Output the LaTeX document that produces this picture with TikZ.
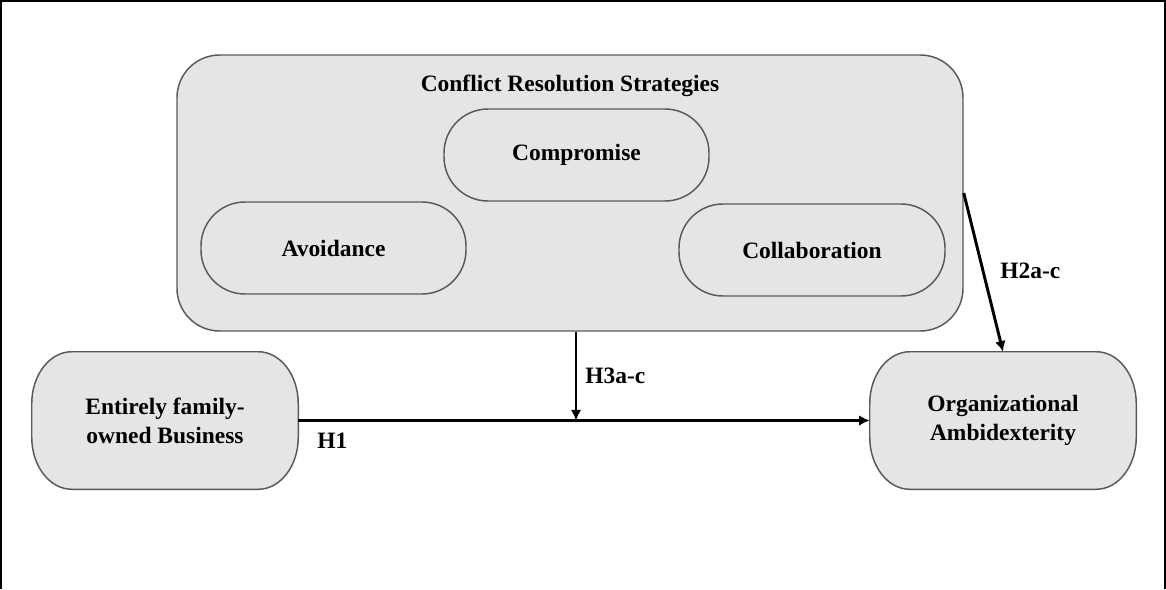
\documentclass[tikz,border=0pt]{standalone}
\usepackage{fontspec}
\setmainfont{Liberation Serif}
\usetikzlibrary{positioning,arrows.meta,backgrounds}

% oval outline round a node, corners with x radius #2 and y radius #3
\newcommand\ovalround[3]{%
  \begin{scope}[on background layer]
  \draw[ovalline] ([xshift=#2]#1.north west) -- ([xshift=-#2]#1.north east)
    arc[start angle=90,end angle=0,x radius=#2,y radius=#3] -- ([yshift=#3]#1.south east)
    arc[start angle=0,end angle=-90,x radius=#2,y radius=#3] -- ([xshift=#2]#1.south west)
    arc[start angle=270,end angle=180,x radius=#2,y radius=#3] -- ([yshift=-#3]#1.north west)
    arc[start angle=180,end angle=90,x radius=#2,y radius=#3] -- cycle;
  \end{scope}}

\begin{document}
\begin{tikzpicture}[x=0.75pt,y=-0.75pt]
		\tikzstyle{every node}+=[inner sep=0pt,font=\bfseries\fontsize{17.6}{21.8}\selectfont]
		\tikzstyle{ovalline}=[draw=black!65,line width=1.1pt,fill=black!10]
		\tikzstyle{pill}=[ovalline,rounded corners=33pt,align=center]
		\tikzstyle{hyp}=[black,line width=2.2pt,-{Latex[length=8pt,width=8pt]}]
		\useasboundingbox (0,0) rectangle (1166,589);
		\draw [black,line width=1.6pt] (1,589) -- (1,1) -- (1165,1) -- (1165,589);
		% strategies
		\node [pill,rounded corners=32pt,minimum width=589.5pt,minimum height=207pt] (crs) at (570,193) {};
		\node (crstitle) at (570,86) {Conflict Resolution Strategies};
		\node [pill,minimum width=198.75pt,minimum height=69pt] (comp) at (576.5,155) {Compromise};
		\node [pill,minimum width=198.75pt,minimum height=69pt] (avoid) at (333.5,248) {Avoidance};
		\node [pill,minimum width=199.5pt,minimum height=69pt] (collab) at (812,250) {Collaboration};
		% constructs
		\node [align=center,minimum width=199.5pt,minimum height=102.75pt] (efob) at (165,420.5) {Entirely family-\\owned Business};
		\node [align=center,minimum width=199.5pt,minimum height=102.75pt] (oa) at (1003,420.5) {Organizational\\Ambidexterity};
		\ovalround{efob}{30pt}{39pt}
		\ovalround{oa}{30pt}{39pt}
		\coordinate (mod) at (576,420.5);
		\draw [hyp] (efob.east) -- (oa.west);
		\draw [hyp] (crs.south -| mod) -- (mod);
		\draw [hyp] (crs.east) -- (oa.north);
		\node [anchor=west] (h1) at (317,441) {H1};
		\node [anchor=west] (h3) at (585,376) {H3a-c};
		\node [anchor=west] (h2) at (1000,271) {H2a-c};
\end{tikzpicture}
\end{document}
